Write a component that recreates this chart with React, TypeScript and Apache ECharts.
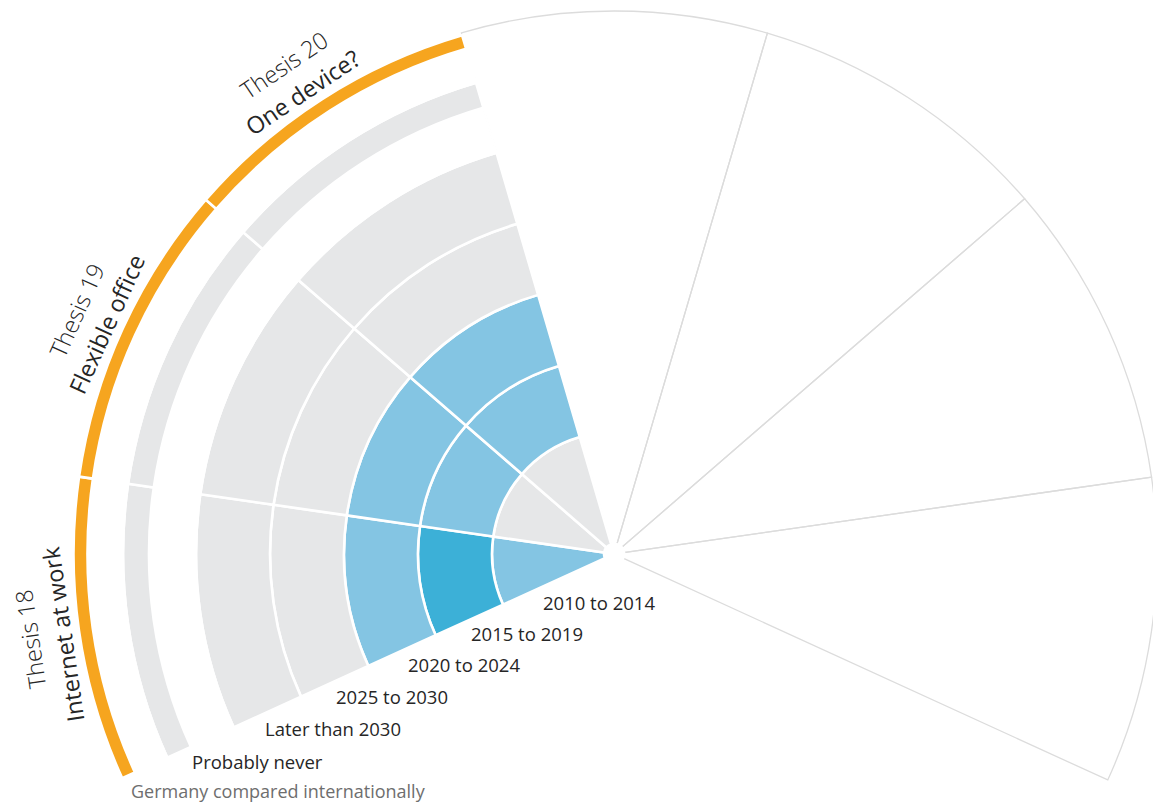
import React, { useEffect, useRef } from 'react';
import * as echarts from 'echarts';

// ---------- data ----------
const THESES = ['Thesis 18', 'Thesis 19', 'Thesis 20'];
const THESIS_TOPICS = ['Internet at work', 'Flexible office', 'One device?'];
const PERIODS = ['2010 to 2014', '2015 to 2019', '2020 to 2024', '2025 to 2030', 'Later than 2030', 'Probably never'];
const FOOTER = 'Germany compared internationally';
// 0 = not expected, 1 = expected, 2 = most expected (per period, inner to outer)
const THESIS_18 = [1, 2, 1, 0, 0, 0];
const THESIS_19 = [0, 1, 1, 0, 0, 0];
const THESIS_20 = [0, 1, 1, 0, 0, 0];
const EMPTY_SLOTS = ['slot 21', 'slot 22', 'slot 23', 'slot 24'];
const HIDDEN_SLOTS = ['slot 25', 'slot 26', 'slot 27', 'slot 28'];

// ---------- layout / style ----------
const W = 1153;
const H = 804;
const CX = 614;
const CY = 554;
const START_ANGLE = 204.5;
const OUTER_R = 543;
const HUB_R = 10;
const RING_EDGES = [122, 196, 270, 344, 418];
const NEVER_BAND = [465, 491];
const ARC_BAND = [526.5, 540.5];
const STATUS_COLORS = ['#e6e7e8', '#84c5e3', '#3cb0d7'];
const ORANGE = '#f6a51f';
const OUTLINE = '#dcdcdc';
const TEXT = '#262626';
const FOOTER_COLOR = '#6e6e6e';
const LABEL_ANGLES = [188.3, 155.6, 124.0];
const LABEL_R = [590, 557];
const PERIOD_LABEL_POS = [[543, 602], [471, 633], [408, 664], [336, 696], [265, 728], [192, 761]];
const FOOTER_POS = [131, 791];
const FONT = "'Open Sans', 'Noto Sans', sans-serif";
const WHITE_EDGE = 2.6;

export default function App() {
  const ref = useRef<HTMLDivElement>(null);
  useEffect(() => {
    document.body.style.margin = '0';
    if (!ref.current) return;
    const chart = echarts.init(ref.current, undefined, { renderer: 'svg' });
    const statuses = [THESIS_18, THESIS_19, THESIS_20];
    const slots = [...THESES, ...EMPTY_SLOTS, ...HIDDEN_SLOTS];
    const nTheses = THESES.length;
    const nDrawn = nTheses + EMPTY_SLOTS.length;

    // invisible on white, but masks the outline where it meets the coloured wedge
    const mask = { color: 'rgba(255,255,255,0)', borderColor: '#ffffff', borderWidth: WHITE_EDGE };
    const base = {
      type: 'bar' as const,
      coordinateSystem: 'polar',
      stack: 'all',
      barCategoryGap: '0%',
      silent: true,
      z: 2,
    };
    const series: any[] = [];
    series.push({
      ...base,
      name: 'hub',
      itemStyle: { color: '#ffffff', borderColor: '#ffffff', borderWidth: WHITE_EDGE },
      data: slots.map((_, i) => (i < nDrawn ? HUB_R : '-')),
    });
    const cell = (edgeFrom: number, edgeTo: number, periodIdx: number) =>
      slots.map((_, i) =>
        i < nTheses
          ? {
              value: edgeTo - edgeFrom,
              itemStyle: {
                color: STATUS_COLORS[statuses[i][periodIdx]],
                borderColor: '#ffffff',
                borderWidth: WHITE_EDGE,
              },
            }
          : '-'
      );
    let prev = HUB_R;
    RING_EDGES.forEach((edge, j) => {
      series.push({ ...base, name: PERIODS[j], data: cell(prev, edge, j) });
      prev = edge;
    });
    series.push({
      ...base,
      name: 'gap1',
      itemStyle: mask,
      data: slots.map((_, i) => (i < nTheses ? NEVER_BAND[0] - prev : '-')),
    });
    series.push({ ...base, name: PERIODS[5], data: cell(NEVER_BAND[0], NEVER_BAND[1], 5) });
    series.push({
      ...base,
      name: 'gap2',
      itemStyle: mask,
      data: slots.map((_, i) => (i < nTheses ? ARC_BAND[0] - NEVER_BAND[1] : '-')),
    });
    series.push({
      ...base,
      name: 'thesis arc',
      itemStyle: { color: ORANGE, borderColor: '#ffffff', borderWidth: WHITE_EDGE },
      data: slots.map((_, i) => (i < nTheses ? ARC_BAND[1] - ARC_BAND[0] : '-')),
    });
    series.push({
      ...base,
      z: 1,
      name: 'outline',
      itemStyle: { color: 'rgba(255,255,255,0)', borderColor: OUTLINE, borderWidth: 1.3 },
      data: slots.map((_, i) => (i >= nTheses && i < nDrawn ? OUTER_R - HUB_R : '-')),
    });

    const graphics: any[] = [];
    THESES.forEach((t, i) => {
      const a = (LABEL_ANGLES[i] * Math.PI) / 180;
      const rot = ((LABEL_ANGLES[i] - 90) * Math.PI) / 180;
      [t, THESIS_TOPICS[i]].forEach((txt, k) => {
        graphics.push({
          type: 'text',
          x: CX + LABEL_R[k] * Math.cos(a),
          y: CY - LABEL_R[k] * Math.sin(a),
          rotation: rot,
          style: {
            text: txt,
            fontFamily: FONT,
            fontSize: 23.5,
            fontWeight: k === 0 ? 300 : 500,
            fill: TEXT,
            align: 'center',
            verticalAlign: 'middle',
          },
        });
      });
    });
    PERIODS.forEach((p, i) => {
      graphics.push({
        type: 'text',
        x: PERIOD_LABEL_POS[i][0],
        y: PERIOD_LABEL_POS[i][1],
        style: {
          text: p,
          fontFamily: FONT,
          fontSize: 18.5,
          fill: TEXT,
          align: 'left',
          verticalAlign: 'middle',
        },
      });
    });
    graphics.push({
      type: 'text',
      x: FOOTER_POS[0],
      y: FOOTER_POS[1],
      style: {
        text: FOOTER,
        fontFamily: FONT,
        fontSize: 18,
        fill: FOOTER_COLOR,
        align: 'left',
        verticalAlign: 'middle',
      },
    });

    chart.setOption({
      animation: false,
      backgroundColor: '#ffffff',
      polar: { center: [CX, CY], radius: OUTER_R },
      angleAxis: {
        type: 'category',
        data: slots,
        startAngle: START_ANGLE,
        clockwise: true,
        axisLine: { show: false },
        axisTick: { show: false },
        axisLabel: { show: false },
        splitLine: { show: false },
      },
      radiusAxis: {
        type: 'value',
        min: 0,
        max: OUTER_R,
        axisLine: { show: false },
        axisTick: { show: false },
        axisLabel: { show: false },
        splitLine: { show: false },
      },
      series,
      graphic: graphics,
    });
    return () => chart.dispose();
  }, []);
  return <div ref={ref} style={{ width: W, height: H }} />;
}
